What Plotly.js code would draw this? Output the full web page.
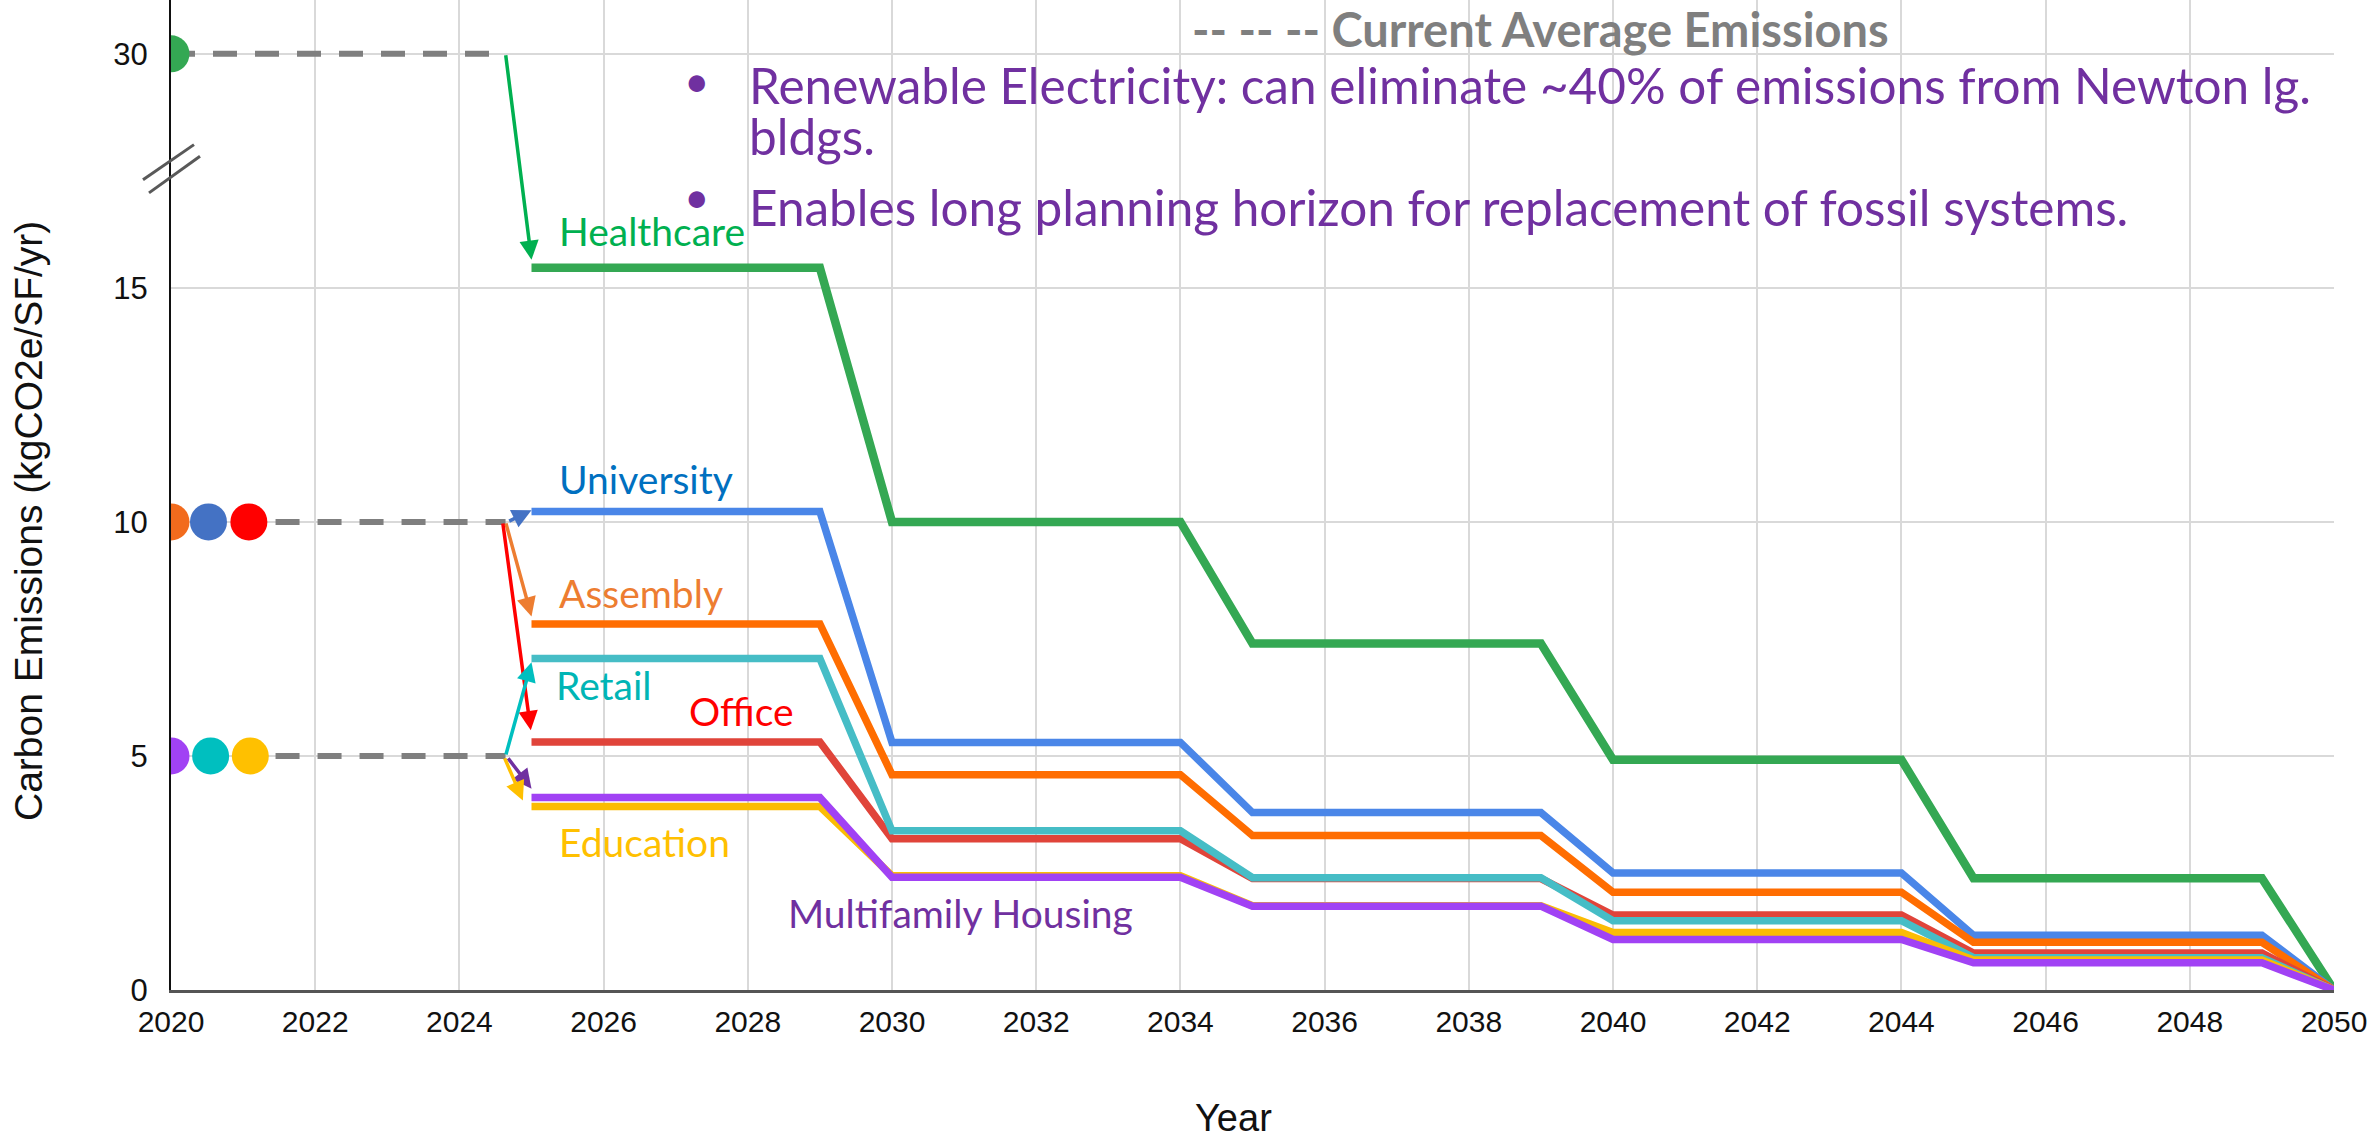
<!DOCTYPE html>
<html>
<head>
<meta charset="utf-8">
<script src="https://cdn.plot.ly/plotly-3.0.1.min.js"></script>
<style>html,body{margin:0;padding:0;background:#fff;}#chart{width:2369px;height:1139px;}</style>
</head>
<body>
<div id="chart"></div>
<script>
// ---------------- DATA ----------------
const years = [2025, 2029, 2030, 2034, 2035, 2039, 2040, 2044, 2045, 2049, 2050];

const healthcare  = [15.43, 15.43, 10.0, 10.0, 7.40, 7.40, 4.92, 4.92, 2.39, 2.39, 0];
const university  = [10.22, 10.22, 5.29, 5.29, 3.79, 3.79, 2.50, 2.50, 1.17, 1.17, 0];
const assembly    = [7.82, 7.82, 4.60, 4.60, 3.30, 3.30, 2.09, 2.09, 1.02, 1.02, 0];
const office      = [5.30, 5.30, 3.23, 3.23, 2.38, 2.38, 1.60, 1.60, 0.79, 0.79, 0];
const retail      = [7.08, 7.08, 3.40, 3.40, 2.40, 2.40, 1.48, 1.48, 0.69, 0.69, 0];
const education   = [3.92, 3.92, 2.44, 2.44, 1.80, 1.80, 1.23, 1.23, 0.64, 0.64, 0];
const multifamily = [4.11, 4.11, 2.41, 2.41, 1.79, 1.79, 1.08, 1.08, 0.58, 0.58, 0];

// current average emissions (real values) for the three groups
const currentLevels = [30, 10, 5];
const currentStartYear = [2020, 2021.45, 2021.45];
const currentEndYear = 2024.64;

// starting dots (year position, real value)
const dotYears  = [2020, 2020, 2020.52, 2021.08, 2020, 2020.55, 2021.1];
const dotValues = [30, 10, 10, 10, 5, 5, 5];

const yTickVals = [0, 5, 10, 15, 30];
const xTicks = [2020,2022,2024,2026,2028,2030,2032,2034,2036,2038,2040,2042,2044,2046,2048,2050];

// arrows: [tailYear, tailValue, headYear, headValue]
const arrowHealthcare  = [2024.64, 30, 2025.0, 15.6];
const arrowUniversity  = [2024.67, 10, 2025.0, 10.25];
const arrowAssembly    = [2024.64, 10, 2025.0, 7.98];
const arrowOffice      = [2024.60, 10, 2024.99, 5.55];
const arrowRetail      = [2024.64, 5, 2025.0, 7.0];
const arrowMulti       = [2024.66, 4.98, 2025.0, 4.3];
const arrowEducation   = [2024.62, 4.98, 2024.88, 4.05];

// ---------------- BROKEN-AXIS SCALE ----------------
// linear up to 17; 17..30 compressed into 17..20
const BREAK = 17;
function sc(v) { return v > BREAK ? BREAK + (v - BREAK) * 3 / 13 : v; }
const yMax = 21.15;

// ---------------- STYLE ----------------
const C = {
  healthcare: '#34a853', university: '#4a86e8', assembly: '#ff6d01',
  retail: '#46bdc6', office: '#e0443a', education: '#fbbc04', multifamily: '#a142f4'
};
const T = {
  healthcare: '#00b050', university: '#0070c0', assembly: '#ed7d31',
  retail: '#00b5b5', office: '#ff0000', education: '#ffc000', multifamily: '#7030a0'
};
const dotColors = ['#34a853', '#f26b1d', '#4472c4', '#ff0000', '#a142f4', '#00bfbf', '#ffc000'];

const labelFont = 'Lato, "Open Sans", sans-serif';
const axisFont = '"Liberation Sans", Arial, sans-serif';

const traces = [];
// dashed current-average lines
currentLevels.forEach((v, i) => {
  traces.push({
    x: [currentStartYear[i], currentEndYear], y: [sc(v), sc(v)],
    mode: 'lines', line: {color: '#7f7f7f', width: 6, dash: '24px,18px'},
    hoverinfo: 'skip', showlegend: false
  });
});

const series = [
  ['healthcare', healthcare, 8.5],
  ['university', university, 7.5],
  ['assembly', assembly, 7.5],
  ['office', office, 7.5],
  ['retail', retail, 7.5],
  ['education', education, 7.5],
  ['multifamily', multifamily, 7.5]
];
series.forEach(([k, vals, w]) => {
  traces.push({
    x: years, y: vals.map(sc), mode: 'lines',
    line: {color: C[k], width: w, shape: 'linear'},
    name: k, showlegend: false
  });
});

traces.push({
  x: dotYears, y: dotValues.map(sc), mode: 'markers',
  marker: {size: 37, color: dotColors, line: {width: 0}},
  cliponaxis: true, showlegend: false, hoverinfo: 'skip'
});

function arrow(a, color) {
  return {
    x: a[2], y: sc(a[3]), ax: a[0], ay: sc(a[1]), xref: 'x', yref: 'y',
    axref: 'x', ayref: 'y', text: '', showarrow: true,
    arrowhead: 2, arrowsize: 1.1, arrowwidth: 3.5, arrowcolor: color, standoff: 0
  };
}
function label(text, x, y, color, size) {
  return {
    x: x, y: y, xref: 'x', yref: 'y', text: text, showarrow: false,
    xanchor: 'left', yanchor: 'middle',
    font: {family: labelFont, size: size || 39, color: color}
  };
}
function note(text, x, y, size, color) {
  return {x: x, y: y, xref: 'x', yref: 'y', xanchor: 'left', yanchor: 'middle', showarrow: false,
    text: text, font: {family: labelFont, size: size, color: color}};
}

const annotations = [
  arrow(arrowHealthcare, '#00b050'),
  arrow(arrowUniversity, '#4472c4'),
  arrow(arrowAssembly, '#ed7d31'),
  arrow(arrowOffice, '#ff0000'),
  arrow(arrowRetail, '#00bfbf'),
  arrow(arrowMulti, '#7030a0'),
  arrow(arrowEducation, '#ffc000'),
  label('Healthcare', 2025.35, 16.21, T.healthcare),
  label('University', 2025.35, 10.91, T.university),
  label('Assembly', 2025.35, 8.49, T.assembly),
  label('Retail', 2025.31, 6.52, T.retail),
  label('Office', 2027.15, 5.97, T.office),
  label('Education', 2025.35, 3.16, T.education),
  label('Multifamily Housing', 2028.53, 1.65, T.multifamily),
  // header text
  {x: 2034.15, y: 1, xref: 'x', yref: 'paper', xanchor: 'left', yanchor: 'top', showarrow: false,
   borderpad: 0, text: '<b>-- -- -- Current Average Emissions</b>',
   font: {family: labelFont, size: 47, color: '#7f7f7f'}},
  note('•', 2027.09, 19.45, 44, '#7030a0'),
  note('Renewable Electricity: can eliminate ~40% of emissions from Newton lg.', 2027.99, 19.34, 49.5, '#7030a0'),
  note('bldgs.', 2027.99, 18.24, 49.5, '#7030a0'),
  note('•', 2027.09, 16.97, 44, '#7030a0'),
  note('Enables long planning horizon for replacement of fossil systems.', 2027.99, 16.73, 49.5, '#7030a0'),
  // axis titles
  {x: -0.066, y: 0.474, xref: 'paper', yref: 'paper', showarrow: false, textangle: -90,
   text: 'Carbon Emissions (kgCO2e/SF/yr)', xanchor: 'center', yanchor: 'middle',
   font: {family: axisFont, size: 39, color: '#111'}},
  {x: 0.491, y: -0.129, xref: 'paper', yref: 'paper', showarrow: false,
   text: 'Year', xanchor: 'center', yanchor: 'middle',
   font: {family: axisFont, size: 38, color: '#111'}}
];

const plotW = 2369 - 171 - 35;
const shapes = [
  {type: 'line', xref: 'paper', yref: 'paper', x0: -28/plotW, x1: 23/plotW, y0: 17.31/yMax, y1: 18.06/yMax,
   line: {color: '#595959', width: 3}},
  {type: 'line', xref: 'paper', yref: 'paper', x0: -22/plotW, x1: 29/plotW, y0: 17.03/yMax, y1: 17.81/yMax,
   line: {color: '#595959', width: 3}}
];

const layout = {
  width: 2369, height: 1139,
  margin: {l: 171, r: 35, t: 0, b: 149},
  paper_bgcolor: '#fff', plot_bgcolor: '#fff',
  showlegend: false,
  xaxis: {
    range: [2020, 2050], tickvals: xTicks, ticktext: xTicks.map(String),
    showgrid: true, gridcolor: '#d9d9d9', gridwidth: 2,
    zeroline: false, showline: true, linecolor: '#555', linewidth: 3,
    ticks: '', ticklabelstandoff: 3, ticklabeloverflow: 'allow',
    tickfont: {family: axisFont, size: 30, color: '#111'}
  },
  yaxis: {
    range: [0, yMax], tickvals: yTickVals.map(sc), ticktext: yTickVals.map(String),
    showgrid: true, gridcolor: '#d9d9d9', gridwidth: 2,
    zeroline: false, showline: true, linecolor: '#111', linewidth: 2,
    ticks: '', ticklabelstandoff: 15, ticklabeloverflow: 'allow',
    tickfont: {family: axisFont, size: 31, color: '#111'}
  },
  annotations: annotations,
  shapes: shapes
};

Plotly.newPlot('chart', traces, layout, {displayModeBar: false, staticPlot: true});
</script>
</body>
</html>
